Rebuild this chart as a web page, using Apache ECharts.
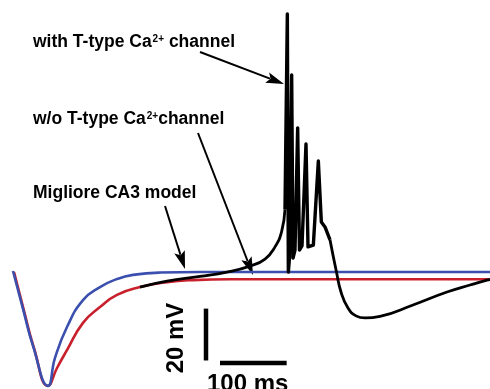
<!DOCTYPE html>
<html>
<head>
<meta charset="utf-8">
<script src="https://cdn.jsdelivr.net/npm/echarts@6/dist/echarts.min.js"></script>
<style>
  html, body { margin: 0; padding: 0; background: #fff; }
  #main { width: 490px; height: 389px; }
</style>
</head>
<body>
<div id="main"></div>
<script>
// traces, [time ms, membrane potential mV]
var migliore = [
  [19.5, -64.5], [34.5, -79.1], [49.5, -93.4], [72, -108.8], [82.5, -98.0],
  [100.5, -86.1], [124.5, -75.7], [150, -70.7], [175.5, -67.6], [199.5, -66.0],
  [240, -65.1], [300, -64.9], [735, -64.9]
];
var woTtype = [
  [21, -64.9], [36, -79.9], [51, -94.2], [72, -108.8], [85.5, -101.9],
  [100.5, -95.0], [124.5, -84.5], [150, -78.4], [175.5, -73.7], [210, -70.7],
  [250.5, -68.8], [289.5, -68.0], [345, -67.7], [735, -67.7]
];
// with T-type channel: slow rise, burst, after-hyperpolarisation
var withRise = [
  [210, -70.7], [250.5, -68.4], [300, -66.6], [340.5, -64.9], [375, -62.6],
  [397.5, -59.9], [412.5, -55.2], [422.5, -49.2], [427.5, -40.7]
];
var withBurst = [
  [427.5, -40.7], [431, 34.6], [432.5, -64.9], [434.2, -59.5],
  [437.5, 11.1], [439.5, -59.5], [442.5, -56.4],
  [446.5, -9.3], [449.2, -56.4], [453, -54.8],
  [459, -15.5], [462, -55.2], [470, -54.5],
  [477.5, -22.1], [482, -45.6], [487.5, -47.5], [495, -52.5]
];
var withDecay = [
  [495, -52.5], [504.7, -64.9], [511.5, -72.6], [522, -78.8], [534, -81.8], [547.5, -82.6],
  [570, -82.0], [619.5, -77.6], [670.5, -72.6], [705, -69.9], [730.5, -68.0], [735, -67.8]
];
// scale bars: 20 mV and 100 ms
var barMV = [[309, -79], [309, -99]];
var barMS = [[330, -100], [430, -100]];

var chart = echarts.init(document.getElementById('main'));

function arrow(x1, y1, x2, y2) {
  var L = 18, W = 5.5;
  var dx = x2 - x1, dy = y2 - y1, d = Math.sqrt(dx * dx + dy * dy);
  var ux = dx / d, uy = dy / d;
  var bx = x2 - ux * L, by = y2 - uy * L;
  return [
    { type: 'line', shape: { x1: x1, y1: y1, x2: bx + ux * 3, y2: by + uy * 3 },
      style: { stroke: '#000', lineWidth: 2 } },
    { type: 'polygon', shape: { points: [[x2, y2], [bx - uy * W, by + ux * W],
        [x2 - ux * L * 0.8, y2 - uy * L * 0.8], [bx + uy * W, by - ux * W]] },
      style: { fill: '#000' } }
  ];
}

var rich = {
  n: { fontSize: 17.5, fontWeight: 'bold', fontFamily: 'Liberation Sans', lineHeight: 20, fill: '#000' },
  s: { fontSize: 10, fontWeight: 'bold', fontFamily: 'Liberation Sans', lineHeight: 10, verticalAlign: 'top', padding: [2, 0, 0, 1], fill: '#000' }
};

var graphics = [
  { type: 'text', left: 33, top: 32, style: { text: '{n|with T-type Ca}{s|2+}{n| channel}', rich: rich } },
  { type: 'text', left: 33, top: 109, style: { text: '{n|w/o T-type Ca}{s|2+}{n|channel}', rich: rich } },
  { type: 'text', left: 33, top: 184, style: { text: '{n|Migliore CA3 model}', rich: rich } },
  { type: 'text', x: 207, y: 372, style: { text: '100 ms', font: 'bold 24px "Liberation Sans"', fill: '#000', textVerticalAlign: 'top' } },
  { type: 'text', x: 176, y: 338, rotation: Math.PI / 2,
    style: { text: '20 mV', font: 'bold 24px "Liberation Sans"', fill: '#000', textAlign: 'center', textVerticalAlign: 'middle' } }
].concat(arrow(200, 52, 284, 84), arrow(198, 133, 253, 275), arrow(165, 206, 185, 269));

function trace(name, data, color, width, z, smooth) {
  return { name: name, type: 'line', data: data, showSymbol: false, smooth: smooth,
    lineStyle: { color: color, width: width, join: 'round' }, z: z };
}

var option = {
  animation: false,
  backgroundColor: '#fff',
  grid: { left: 0, right: 0, top: 0, bottom: 0 },
  xAxis: { type: 'value', min: 0, max: 735, show: false },
  yAxis: { type: 'value', min: -110, max: 40, show: false },
  series: [
    trace('w/o T-type', woTtype, '#c8202c', 2.6, 2, 0.5),
    trace('Migliore', migliore, '#3b4fae', 2.6, 3, 0.5),
    trace('with T-type', withRise, '#000', 2.8, 4, 0.5),
    trace('with T-type burst', withBurst, '#000', 3.4, 4, false),
    trace('with T-type decay', withDecay, '#000', 2.8, 4, 0.5),
    trace('bar mV', barMV, '#000', 4.5, 5, false),
    trace('bar ms', barMS, '#000', 4.5, 5, false)
  ],
  graphic: graphics
};
chart.setOption(option);
</script>
</body>
</html>
